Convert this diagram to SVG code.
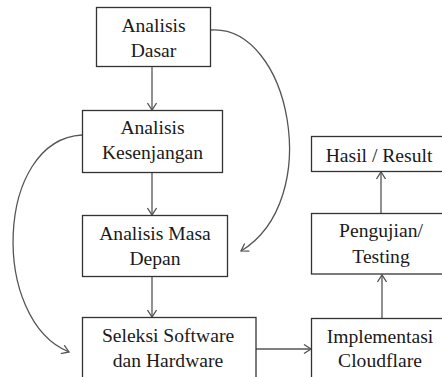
<svg xmlns="http://www.w3.org/2000/svg" width="442" height="377" viewBox="0 0 442 377">
<defs>
<style>
.box{fill:#fff;stroke:#333;stroke-width:1.3}
.t{font-family:'Liberation Serif','DejaVu Serif',serif;font-size:19.6px;fill:#1a1a1a;text-anchor:middle}
.c{fill:none;stroke:#555;stroke-width:1.3}
</style>
<marker id="ah" markerWidth="10" markerHeight="10" refX="8" refY="5" orient="auto" markerUnits="userSpaceOnUse">
<path d="M1,0.5 L8,5 L1,9.5" fill="none" stroke="#555" stroke-width="1.3"/>
</marker>
</defs>
<rect width="442" height="377" fill="#fff"/>
<g id="connectors">
<line class="c" x1="152" y1="67" x2="152" y2="110" marker-end="url(#ah)"/>
<line class="c" x1="152" y1="172" x2="152" y2="215" marker-end="url(#ah)"/>
<line class="c" x1="152" y1="277" x2="152" y2="317" marker-end="url(#ah)"/>
<line class="c" x1="256" y1="349" x2="311" y2="349" marker-end="url(#ah)"/>
<line class="c" x1="382" y1="318" x2="382" y2="275" marker-end="url(#ah)"/>
<line class="c" x1="381" y1="213" x2="381" y2="172" marker-end="url(#ah)"/>
<path class="c" d="M211,30 C290,25 325,200 241,251" marker-end="url(#ah)"/>
<path class="c" d="M82,135 C-5,140 -10,320 69,352" marker-end="url(#ah)"/>
</g>
<g id="dasar"><rect class="box" x="96.5" y="7.5" width="114" height="59"/><text class="t" x="153.5" y="31.5">Analisis</text><text class="t" x="153.5" y="56.5">Dasar</text></g>
<g id="kesenjangan"><rect class="box" x="82.5" y="110.5" width="140" height="62"/><text class="t" x="152.5" y="134">Analisis</text><text class="t" x="152.5" y="159">Kesenjangan</text></g>
<g id="masadepan"><rect class="box" x="82.5" y="215.5" width="145" height="61"/><text class="t" x="155" y="240">Analisis Masa</text><text class="t" x="155" y="265">Depan</text></g>
<g id="seleksi"><rect class="box" x="82.5" y="317.5" width="173.5" height="70"/><text class="t" x="168" y="341.5">Seleksi Software</text><text class="t" x="168" y="366.5">dan Hardware</text></g>
<g id="implementasi"><rect class="box" x="311.5" y="318.5" width="140" height="70"/><text class="t" x="380" y="343">Implementasi</text><text class="t" x="380" y="367">Cloudflare</text></g>
<g id="pengujian"><rect class="box" x="311.5" y="213.5" width="140" height="60.5"/><text class="t" x="381" y="237">Pengujian/</text><text class="t" x="381" y="263">Testing</text></g>
<g id="hasil"><rect class="box" x="311.5" y="136.5" width="140" height="35"/><text class="t" x="379" y="161.5">Hasil / Result</text></g>
</svg>
